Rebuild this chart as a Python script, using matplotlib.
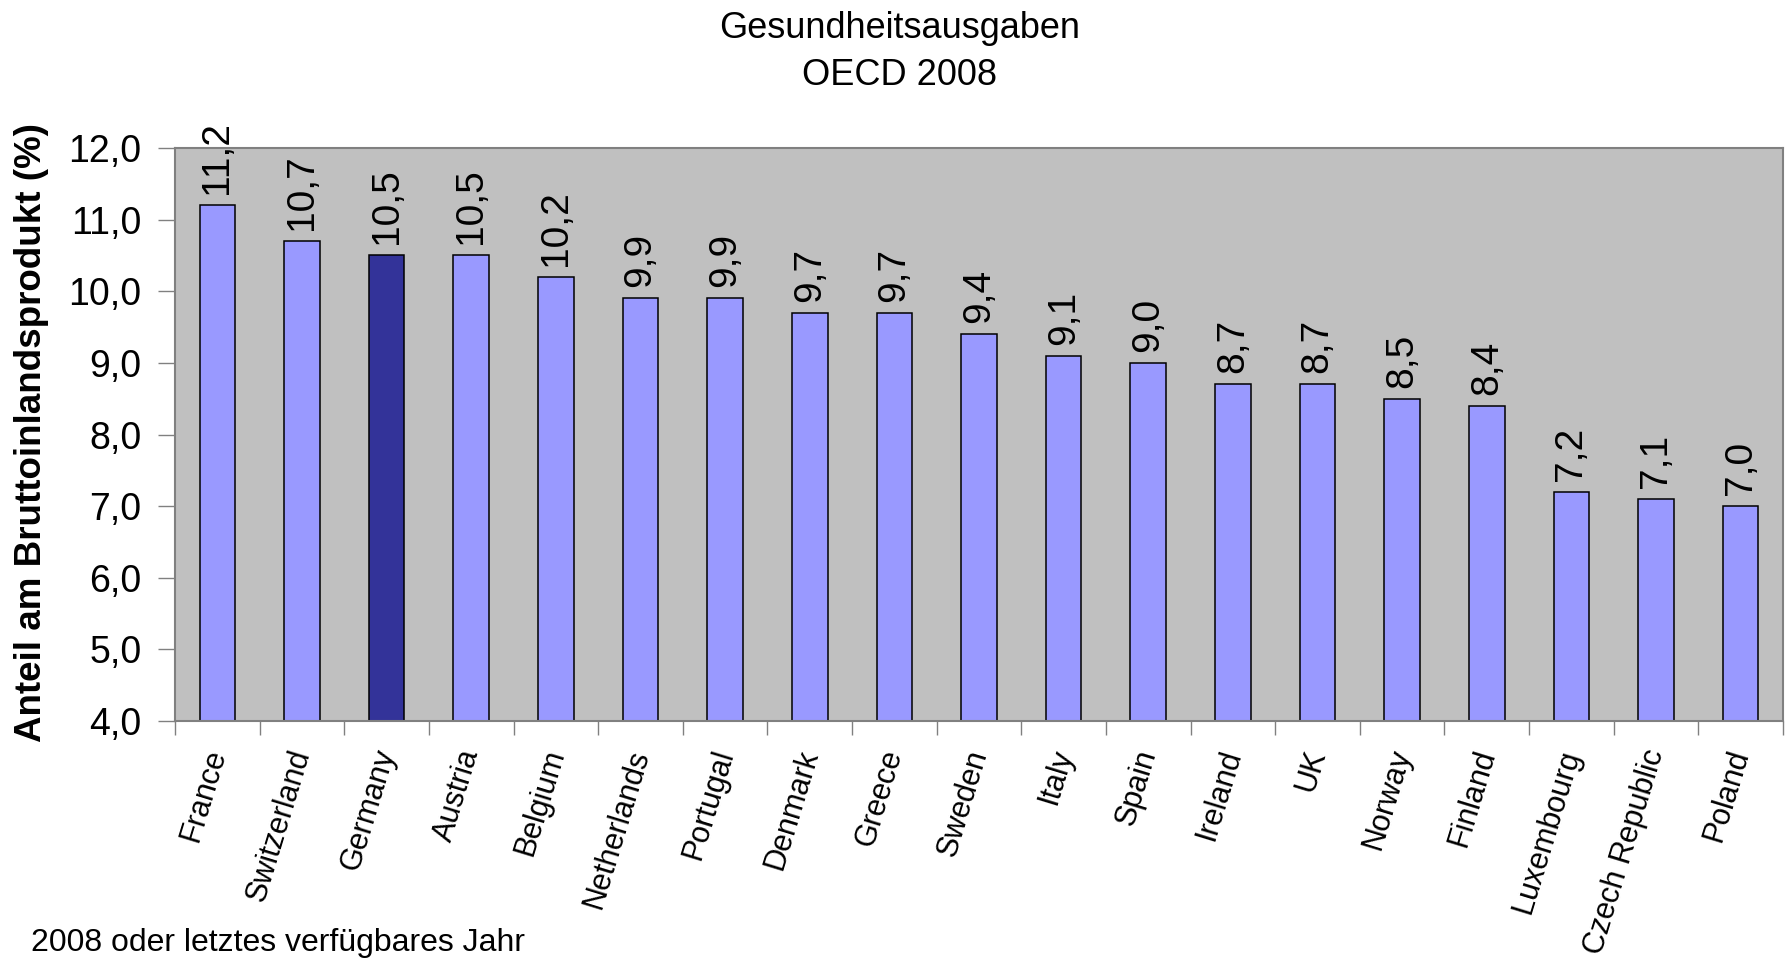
import numpy as np
import matplotlib
matplotlib.use("agg")
import matplotlib.pyplot as plt
from matplotlib.ticker import FixedLocator, FuncFormatter

plt.rcParams['font.family'] = ['Liberation Sans', 'DejaVu Sans']

# Data
countries = ["France", "Switzerland", "Germany", "Austria", "Belgium", "Netherlands",
             "Portugal", "Denmark", "Greece", "Sweden", "Italy", "Spain", "Ireland",
             "UK", "Norway", "Finland", "Luxembourg", "Czech Republic", "Poland"]
values = [11.2, 10.7, 10.5, 10.5, 10.2, 9.9, 9.9, 9.7, 9.7, 9.4,
          9.1, 9.0, 8.7, 8.7, 8.5, 8.4, 7.2, 7.1, 7.0]
highlight = "Germany"

title_lines = ["Gesundheitsausgaben", "OECD 2008"]
ylabel = "Anteil am Bruttoinlandsprodukt (%)"
footnote = "2008 oder letztes verfügbares Jahr"

W, H = 1785, 960
fig = plt.figure(figsize=(W / 100, H / 100), dpi=100)
ax = fig.add_axes([175 / W, 1 - 721 / H, (1783 - 175) / W, (721 - 148) / H])
ax.set_facecolor("#C0C0C0")

x = np.arange(len(countries))
colors = ["#333399" if c == highlight else "#9999FF" for c in countries]
ax.bar(x, values, width=0.42, color=colors, edgecolor="black", linewidth=1.1, zorder=2)

ax.set_xlim(-0.5, len(countries) - 0.5)
ax.set_ylim(4.0, 12.0)
ax.set_yticks(np.arange(4, 12.01, 1.0))
ax.yaxis.set_major_formatter(FuncFormatter(lambda v, p: ("%.1f" % v).replace(".", ",")))
ax.tick_params(axis="y", labelsize=27, length=12, width=1, color="#808080", pad=12)

# category labels at centres, ticks at category boundaries
ax.set_xticks(x)
ax.set_xticklabels(countries, rotation=73, ha="right", va="center",
                   rotation_mode="anchor", fontsize=22)
ax.tick_params(axis="x", which="major", length=0, pad=21)
ax.xaxis.set_minor_locator(FixedLocator(np.arange(-0.5, len(countries), 1.0)))
ax.tick_params(axis="x", which="minor", length=10, width=1, color="#808080")

for side in ["top", "right", "left", "bottom"]:
    ax.spines[side].set_color("#808080")
    ax.spines[side].set_linewidth(1.5)

# value labels above bars
for xi, v in zip(x, values):
    ax.annotate(("%.1f" % v).replace(".", ","), (xi, v), xytext=(0, 8),
                textcoords="offset points", rotation=90, ha="center", va="bottom",
                fontsize=28, annotation_clip=False, clip_on=False)

fig.text(0.504, 1 - 38 / H, title_lines[0], ha="center", va="baseline", fontsize=26)
fig.text(0.504, 1 - 85 / H, title_lines[1], ha="center", va="baseline", fontsize=26)
fig.text(32 / W, 1 - 433 / H, ylabel, rotation=90, ha="center", va="center",
         fontsize=26.5, fontweight="bold")
fig.text(31 / W, 1 - 951 / H, footnote, ha="left", va="baseline", fontsize=23)

fig.savefig("out.png", dpi=100)
